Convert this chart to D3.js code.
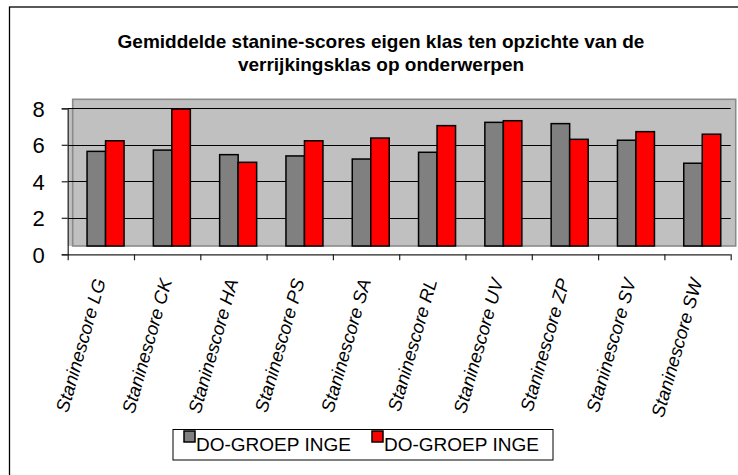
<!DOCTYPE html>
<html>
<head>
<meta charset="utf-8">
<script src="https://cdn.jsdelivr.net/npm/d3@7"></script>
<style>
  body { margin: 0; background: #fff; }
  svg { display: block; font-family: "Liberation Sans", Arial, sans-serif; }
</style>
</head>
<body>
<svg id="chart" width="738" height="475"></svg>
<script>
// data
const categories = ["Staninescore LG", "Staninescore CK", "Staninescore HA", "Staninescore PS", "Staninescore SA",
  "Staninescore RL", "Staninescore UV", "Staninescore ZP", "Staninescore SV", "Staninescore SW"];
const seriesNames = ["DO-GROEP INGE", "DO-GROEP INGE"];
const groepA = [5.64, 5.71, 5.46, 5.39, 5.22, 5.59, 7.23, 7.16, 6.25, 4.99];
const groepB = [6.22, 7.96, 5.04, 6.22, 6.37, 7.05, 7.32, 6.30, 6.72, 6.58];
const yTicks = [0, 2, 4, 6, 8];
const titleLines = ["Gemiddelde stanine-scores eigen klas ten opzichte van de", "verrijkingsklas op onderwerpen"];

const colors = ["#808080", "#ff0000"];
const svg = d3.select("#chart");

// outer chart frame (right/bottom run off the picture)
svg.append("rect")
  .attr("x", 9.5).attr("y", 7)
  .attr("width", 780).attr("height", 500)
  .attr("fill", "#fff").attr("stroke", "#000").attr("stroke-width", 1.3);

// title
svg.append("g").selectAll("text")
  .data(titleLines)
  .enter().append("text")
  .attr("x", 381)
  .attr("y", (d, i) => 48 + i * 23)
  .attr("text-anchor", "middle")
  .attr("font-size", 19)
  .attr("font-weight", "bold")
  .text(d => d);

// scales
const x = d3.scaleBand().domain(categories).range([67.7, 730.7]);
const y = d3.scaleLinear().domain([0, 8]).range([254.3, 108.3]);
const depth = { dx: 5, dy: 8.3 }; // the 3d shift of the back wall
const barW = 18.5;

// back wall
svg.append("rect")
  .attr("x", x.range()[0]).attr("y", y(8))
  .attr("width", x.range()[1] - x.range()[0]).attr("height", y(0) - depth.dy - y(8))
  .attr("fill", "#c0c0c0");
svg.append("rect")
  .attr("x", x.range()[0] + depth.dx).attr("y", y(8) - depth.dy - 0.7)
  .attr("width", x.range()[1] - x.range()[0]).attr("height", y(0) - y(8) + 0.7)
  .attr("fill", "#c0c0c0").attr("stroke", "#8a8a8a").attr("stroke-width", 1.6);

// gridlines
svg.append("g").selectAll("line")
  .data(yTicks.filter(t => t > 0))
  .enter().append("line")
  .attr("x1", x.range()[0]).attr("x2", x.range()[1])
  .attr("y1", d => Math.round(y(d)) + 0.5).attr("y2", d => Math.round(y(d)) + 0.5)
  .attr("stroke", "#000").attr("stroke-width", 1);

// bars
const groups = svg.append("g").selectAll("g")
  .data(categories)
  .enter().append("g")
  .attr("transform", d => `translate(${x(d) + x.bandwidth() / 2 + depth.dx - 0.3},0)`);

[groepA, groepB].forEach((vals, s) => {
  groups.append("rect")
    .attr("x", s === 0 ? -barW : 0)
    .attr("y", (d, i) => y(vals[i]))
    .attr("width", barW)
    .attr("height", (d, i) => y(0) - depth.dy - y(vals[i]))
    .attr("fill", colors[s])
    .attr("stroke", "#000").attr("stroke-width", 1.5);
});

// axes
const yAxis = svg.append("g")
  .attr("transform", `translate(${x.range()[0]},0)`)
  .call(d3.axisLeft(y).tickValues(yTicks).tickSize(6).tickPadding(17));
yAxis.selectAll("text").attr("font-size", 22).attr("fill", "#000").attr("dy", "0.36em")
  .style("font-family", "Liberation Sans, Arial, sans-serif");

const xAxis = svg.append("g")
  .attr("transform", `translate(0,${y(0)})`)
  .call(d3.axisBottom(d3.scaleLinear().domain([0, categories.length]).range(x.range()))
    .ticks(categories.length).tickSize(6).tickFormat(""));

svg.selectAll(".domain, .tick line").attr("stroke", "#222").attr("stroke-width", 1.2);
xAxis.select(".domain").attr("d", `M${x.range()[0]},0.5H${x.range()[1]}`);

// category labels, rotated
svg.append("g").selectAll("text")
  .data(categories)
  .enter().append("text")
  .attr("transform", d => `translate(${x(d) + x.bandwidth() / 2 + 5},281) rotate(-74)`)
  .attr("text-anchor", "end")
  .attr("font-size", 18.5)
  .attr("font-style", "italic")
  .text(d => d);

// legend
const legend = svg.append("g");
legend.append("rect")
  .attr("x", 173).attr("y", 429.5)
  .attr("width", 380).attr("height", 30.5)
  .attr("fill", "#fff").attr("stroke", "#000").attr("stroke-width", 1);

const items = legend.selectAll("g.item")
  .data(seriesNames)
  .enter().append("g")
  .attr("transform", (d, i) => `translate(${i === 0 ? 184 : 372},431)`);
items.append("rect")
  .attr("width", 11).attr("height", 11)
  .attr("fill", (d, i) => colors[i])
  .attr("stroke", "#000").attr("stroke-width", 1.5);
items.append("text")
  .attr("x", 12).attr("y", 20)
  .attr("font-size", 19)
  .text(d => d);
</script>
</body>
</html>
